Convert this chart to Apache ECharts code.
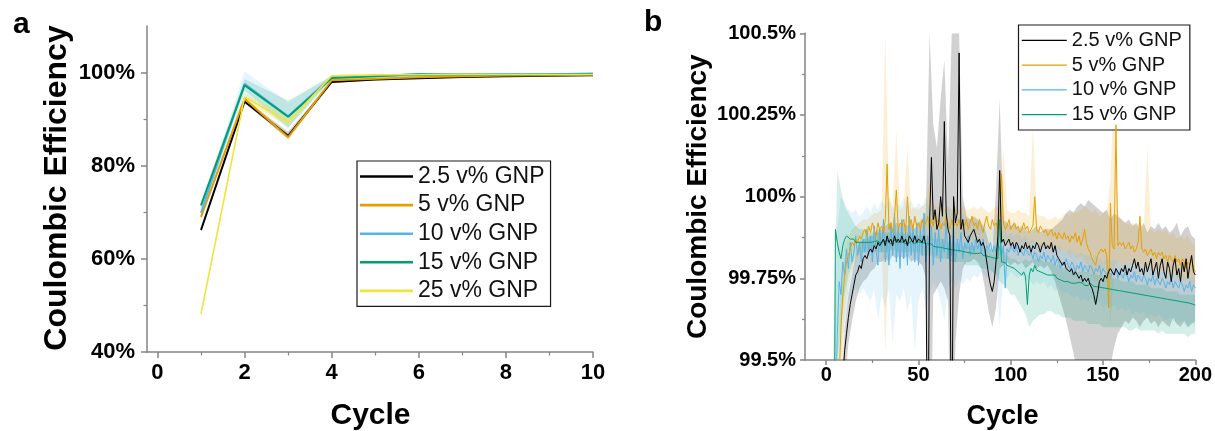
<!DOCTYPE html>
<html>
<head>
<meta charset="utf-8">
<title>Coulombic Efficiency vs Cycle</title>
<script src="https://cdn.jsdelivr.net/npm/echarts@6/dist/echarts.min.js"></script>
<style>
  html, body { margin: 0; padding: 0; background: #fff; }
  #chart { width: 1215px; height: 431px; }
</style>
</head>
<body>
<div id="chart"></div>
<script>
// ---------- Panel a: first 10 cycles (CE in %) ----------
const cyclesA = [1, 2, 3, 4, 5, 6, 7, 8, 9, 10];
const ceA_2_5 = [66.2, 93.8, 86.4, 98.0, 98.5, 98.8, 99.05, 99.2, 99.3, 99.45];
const ceA_5   = [69.0, 94.4, 86.1, 98.35, 98.7, 99.0, 99.2, 99.35, 99.45, 99.55];
const ceA_10  = [69.9, 97.6, 90.6, 99.06, 99.3, 99.45, 99.55, 99.6, 99.65, 99.8];
const ceA_15  = [71.5, 97.3, 90.5, 98.85, 99.2, 99.7, 99.6, 99.6, 99.6, 99.65];
const ceA_25  = [48.2, 94.8, 89.4, 99.3, 99.5, 99.6, 99.65, 99.6, 99.6, 99.6];

const bandA_2_5_hi = [66.6, 94.2, 87.3, 98.3, 98.7, 98.95, 99.15, 99.3, 99.4, 99.5];
const bandA_2_5_lo = [65.8, 93.4, 85.8, 97.8, 98.3, 98.6, 98.9, 99.1, 99.2, 99.35];
const bandA_5_hi   = [69.5, 94.7, 86.8, 98.6, 98.9, 99.2, 99.35, 99.5, 99.6, 99.65];
const bandA_5_lo   = [68.5, 93.9, 85.6, 98.1, 98.5, 98.8, 99.05, 99.2, 99.3, 99.45];
const bandA_10_hi  = [71.0, 100.3, 93.6, 99.5, 99.6, 99.7, 99.75, 99.8, 99.85, 99.95];
const bandA_10_lo  = [68.8, 95.2, 88.0, 98.6, 99.0, 99.2, 99.35, 99.4, 99.45, 99.55];
const bandA_15_hi  = [72.2, 98.6, 94.0, 99.2, 99.5, 99.85, 99.8, 99.75, 99.75, 99.8];
const bandA_15_lo  = [70.8, 96.2, 88.2, 98.5, 98.9, 99.5, 99.4, 99.45, 99.45, 99.5];
const bandA_25_hi  = [48.8, 95.6, 90.6, 99.5, 99.65, 99.75, 99.8, 99.75, 99.75, 99.75];
const bandA_25_lo  = [47.6, 94.0, 88.4, 99.1, 99.35, 99.45, 99.5, 99.45, 99.45, 99.45];

const ticksAx = [0, 2, 4, 6, 8, 10];
const minorAx = [1, 3, 5, 7, 9];
const ticksAy = [40, 60, 80, 100];
const minorAy = [50, 70, 90];

// ---------- Panel b: 200 cycles (CE in %) ----------
const cyclesB = Array.from({ length: 200 }, (_, i) => i + 1);
const ceB_2_5 = [
  66.2, 93.8, 86.4, 98.0, 98.5, 98.8, 99.05, 99.2, 99.45, 99.53,
  99.58, 99.63, 99.67, 99.70, 99.73, 99.76, 99.77, 99.79, 99.78, 99.81,
  99.82, 99.81, 99.83, 99.84, 99.83, 99.85, 99.84, 99.86, 99.85, 99.86,
  99.87, 99.85, 99.88, 99.86, 99.87, 99.85, 99.88, 99.86, 99.87, 99.86,
  99.88, 99.86, 99.87, 99.85, 99.88, 99.87, 99.86, 99.88, 99.86, 99.87,
  99.87, 99.86, 99.88, 99.85, 99.05, 99.92, 100.12, 99.93, 99.96, 99.9,
  99.92, 100.0, 99.94, 100.23, 99.95, 99.9, 99.88, 99.1, 100.0, 99.92,
  99.95, 100.44, 99.9, 99.93, 99.88, 99.87, 99.86, 99.88, 99.89, 99.9,
  99.88, 99.86, 99.87, 99.85, 99.86, 99.84, 99.80, 99.76, 99.73, 99.71,
  99.74, 99.80, 99.88, 100.08, 99.86, 99.87, 99.85, 99.86, 99.87, 99.85,
  99.86, 99.84, 99.86, 99.85, 99.83, 99.85, 99.84, 99.86, 99.84, 99.85,
  99.83, 99.85, 99.84, 99.86, 99.85, 99.83, 99.85, 99.86, 99.84, 99.85,
  99.84, 99.86, 99.83, 99.85, 99.82, 99.81, 99.80, 99.79, 99.80, 99.78,
  99.78, 99.77, 99.78, 99.76, 99.77, 99.76, 99.75, 99.76, 99.74, 99.75,
  99.74, 99.75, 99.73, 99.72, 99.70, 99.67, 99.70, 99.74, 99.75, 99.74,
  99.76, 99.75, 99.77, 99.78, 99.77, 99.76, 99.78, 99.77, 99.76, 99.78,
  99.77, 99.79, 99.76, 99.78, 99.77, 99.79, 99.81, 99.78, 99.80, 99.77,
  99.78, 99.76, 99.80, 99.77, 99.79, 99.81, 99.76, 99.78, 99.80, 99.75,
  99.79, 99.81, 99.77, 99.75, 99.80, 99.78, 99.74, 99.79, 99.81, 99.76,
  99.78, 99.74, 99.80, 99.77, 99.81, 99.75, 99.79, 99.82, 99.77, 99.76
];
const ceB_5 = [
  69.0, 94.4, 86.1, 98.35, 98.9, 99.2, 99.45, 99.6, 99.7, 99.76,
  99.8, 99.82, 99.84, 99.86, 99.85, 99.87, 99.86, 99.88, 99.87, 99.89,
  99.9, 99.88, 99.91, 99.89, 99.92, 99.9, 99.88, 99.92, 99.9, 99.91,
  99.89, 99.93, 100.1, 99.9, 99.92, 99.89, 99.94, 100.02, 99.9, 99.92,
  99.91, 99.93, 99.89, 100.0, 99.91, 99.93, 99.9, 99.94, 99.91, 99.92,
  99.9, 99.93, 99.91, 99.92, 99.94, 99.9, 99.93, 99.91, 99.95, 99.92,
  99.93, 99.9, 99.92, 99.91, 99.94, 99.92, 99.9, 99.93, 99.91, 99.92,
  99.91, 99.93, 99.9, 99.92, 99.91, 99.93, 99.9, 99.92, 99.94, 99.91,
  99.92, 99.9, 99.93, 99.91, 99.89, 99.92, 99.94, 99.91, 99.9, 99.93,
  99.91, 99.92, 99.9, 99.93, 100.07, 99.92, 99.9, 99.91, 99.93, 99.9,
  99.91, 99.92, 99.9, 99.91, 99.89, 99.9, 99.92, 99.9, 99.91, 99.89,
  99.9, 99.91, 100.0, 99.9, 99.89, 99.91, 99.9, 99.89, 99.9, 99.88,
  99.89, 99.9, 99.88, 99.89, 99.87, 99.89, 99.88, 99.87, 99.89, 99.87,
  99.88, 99.86, 99.88, 99.87, 99.89, 99.86, 99.88, 99.85, 99.87, 99.9,
  99.86, 99.84, 99.83, 99.81, 99.80, 99.79, 99.82, 99.83, 99.84, 99.83,
  99.84, 99.82, 99.66, 99.98, 99.85, 99.84, 100.22, 99.85, 99.86, 99.85,
  99.86, 99.84, 99.85, 99.86, 99.84, 99.85, 99.83, 99.84, 99.86, 99.94,
  99.84, 99.83, 99.84, 99.82, 99.83, 99.84, 99.82, 99.83, 99.81, 99.83,
  99.82, 99.83, 99.81, 99.82, 99.80, 99.82, 99.81, 99.80, 99.82, 99.80,
  99.81, 99.79, 99.81, 99.80, 99.78, 99.80, 99.79, 99.81, 99.78, 99.77
];
const ceB_10 = [
  69.9, 97.6, 90.6, 99.06, 99.3, 99.58, 99.74, 99.70, 99.8, 99.76,
  99.84, 99.78, 99.86, 99.8, 99.83, 99.88, 99.82, 99.86, 99.8, 99.87,
  99.83, 99.9, 99.82, 99.88, 99.8, 99.91, 99.84, 99.79, 99.9, 99.83,
  99.93, 99.8, 99.88, 99.79, 99.92, 99.82, 99.95, 99.8, 99.9, 99.78,
  99.93, 99.81, 99.89, 99.79, 99.94, 99.82, 99.9, 99.8, 99.92, 99.79,
  99.9, 99.82, 99.95, 99.8, 99.88, 99.83, 99.91, 99.79, 99.89, 99.82,
  99.9, 99.8, 99.87, 99.83, 99.92, 99.81, 99.88, 99.82, 99.9, 99.8,
  99.87, 99.83, 99.89, 99.81, 99.86, 99.84, 99.88, 99.82, 99.86, 99.83,
  99.87, 99.84, 99.86, 99.83, 99.87, 99.82, 99.85, 99.84, 99.86, 99.83,
  99.85, 99.83, 99.86, 99.84, 99.82, 99.85, 99.72, 99.84, 99.83, 99.85,
  99.84, 99.83, 99.85, 99.82, 99.84, 99.83, 99.82, 99.84, 99.83, 99.82,
  99.83, 99.81, 99.83, 99.82, 99.8, 99.82, 99.81, 99.83, 99.8, 99.82,
  99.81, 99.8, 99.82, 99.79, 99.81, 99.8, 99.78, 99.8, 99.79, 99.81,
  99.79, 99.78, 99.8, 99.79, 99.77, 99.79, 99.78, 99.8, 99.77, 99.79,
  99.78, 99.77, 99.79, 99.78, 99.76, 99.78, 99.77, 99.79, 99.76, 99.78,
  99.77, 99.76, 99.78, 99.75, 99.77, 99.76, 99.78, 99.75, 99.77, 99.76,
  99.75, 99.77, 99.76, 99.74, 99.76, 99.75, 99.77, 99.74, 99.76, 99.75,
  99.74, 99.76, 99.75, 99.73, 99.75, 99.74, 99.76, 99.73, 99.75, 99.74,
  99.73, 99.75, 99.74, 99.72, 99.74, 99.73, 99.75, 99.72, 99.74, 99.73,
  99.72, 99.74, 99.73, 99.71, 99.73, 99.72, 99.74, 99.71, 99.73, 99.72
];
const ceB_15 = [
  71.5, 97.3, 90.5, 98.85, 99.9, 99.86, 99.83, 99.81, 99.85, 99.87,
  99.88, 99.875, 99.87, 99.865, 99.87, 99.86, 99.865, 99.86, 99.855, 99.86,
  99.855, 99.86, 99.865, 99.86, 99.858, 99.862, 99.86, 99.865, 99.858, 99.86,
  99.862, 99.858, 99.866, 99.86, 99.855, 99.864, 99.858, 99.87, 99.86, 99.857,
  99.862, 99.868, 99.856, 99.862, 99.858, 99.865, 99.86, 99.855, 99.862, 99.856,
  99.86, 99.854, 99.858, 99.852, 99.856, 99.85, 99.855, 99.848, 99.852, 99.846,
  99.85, 99.845, 99.848, 99.842, 99.846, 99.84, 99.845, 99.838, 99.842, 99.836,
  99.84, 99.835, 99.838, 99.832, 99.836, 99.83, 99.834, 99.828, 99.832, 99.826,
  99.83, 99.826, 99.822, 99.828, 99.82, 99.824, 99.818, 99.822, 99.815, 99.82,
  99.812, 99.818, 99.81, 99.93, 99.8, 99.805, 99.798, 99.79, 99.795, 99.785,
  99.79, 99.78, 99.775, 99.77, 99.765, 99.76, 99.77, 99.755, 99.67, 99.76,
  99.78, 99.77, 99.79, 99.775, 99.78, 99.77, 99.775, 99.765, 99.77, 99.76,
  99.765, 99.76, 99.755, 99.76, 99.75, 99.755, 99.745, 99.75, 99.74, 99.745,
  99.74, 99.745, 99.735, 99.74, 99.735, 99.73, 99.738, 99.732, 99.735, 99.728,
  99.732, 99.728, 99.735, 99.73, 99.725, 99.73, 99.724, 99.728, 99.722, 99.726,
  99.72, 99.725, 99.718, 99.722, 99.716, 99.72, 99.714, 99.718, 99.712, 99.716,
  99.71, 99.714, 99.708, 99.712, 99.706, 99.71, 99.704, 99.708, 99.702, 99.706,
  99.70, 99.705, 99.698, 99.702, 99.696, 99.70, 99.694, 99.698, 99.692, 99.696,
  99.69, 99.694, 99.688, 99.692, 99.686, 99.69, 99.684, 99.688, 99.682, 99.686,
  99.68, 99.684, 99.678, 99.682, 99.676, 99.68, 99.674, 99.672, 99.67, 99.668
];

// spread bands (upper / lower), sampled every second cycle
const bandCyclesB = Array.from({ length: 100 }, (_, i) => 2 * (i + 1));
const bandB_2_5_hi = [
  95.0, 98.6, 99.1, 99.38, 99.6, 99.7, 99.76, 99.82, 99.86, 99.87,
  99.87, 99.88, 99.88, 99.9, 99.9, 99.91, 99.92, 99.9, 99.92, 99.91,
  99.92, 99.91, 99.92, 99.9, 99.92, 99.93, 99.95, 100.5, 100.22, 100.15,
  100.3, 100.42, 100.1, 100.5, 100.5, 100.5, 100.0, 99.94, 99.93, 99.94,
  99.93, 99.92, 99.9, 99.86, 99.82, 100.02, 100.3, 99.93, 99.92, 99.91,
  99.92, 99.9, 99.91, 99.9, 99.89, 99.9, 99.91, 99.89, 99.9, 99.9,
  99.9, 99.91, 99.92, 99.93, 99.95, 99.96, 99.95, 99.97, 99.98, 99.97,
  99.99, 99.98, 99.97, 99.96, 99.95, 99.96, 99.93, 99.95, 99.94, 99.93,
  99.92, 99.93, 99.91, 99.92, 99.9, 99.92, 99.89, 99.91, 99.9, 99.92,
  99.9, 99.91, 99.89, 99.9, 99.92, 99.88, 99.9, 99.91, 99.88, 99.87
];
const bandB_2_5_lo = [
  92.5, 97.4, 98.5, 99.0, 99.42, 99.55, 99.62, 99.68, 99.72, 99.74,
  99.75, 99.77, 99.78, 99.8, 99.8, 99.81, 99.8, 99.82, 99.81, 99.82,
  99.81, 99.82, 99.8, 99.81, 99.8, 99.79, 99.75, 99.0, 99.7, 99.72,
  99.74, 99.72, 99.68, 99.0, 99.55, 99.7, 99.78, 99.8, 99.8, 99.81,
  99.8, 99.78, 99.72, 99.65, 99.6, 99.66, 99.78, 99.79, 99.8, 99.79,
  99.8, 99.79, 99.8, 99.78, 99.79, 99.8, 99.78, 99.79, 99.78, 99.79,
  99.77, 99.74, 99.7, 99.66, 99.62, 99.57, 99.52, 99.46, 99.4, 99.32,
  99.3, 99.3, 99.32, 99.28, 99.35, 99.42, 99.48, 99.54, 99.58, 99.6,
  99.62, 99.61, 99.63, 99.62, 99.6, 99.62, 99.63, 99.61, 99.62, 99.6,
  99.62, 99.61, 99.6, 99.63, 99.61, 99.6, 99.62, 99.6, 99.61, 99.62
];
const bandB_5_hi = [
  95.5, 98.8, 99.35, 99.75, 99.85, 99.88, 99.9, 99.91, 99.92, 99.93,
  99.93, 99.94, 99.95, 99.95, 99.96, 100.5, 100.0, 99.97, 100.2, 99.96,
  99.97, 100.15, 99.96, 99.97, 99.96, 99.97, 99.98, 100.05, 99.98, 99.97,
  99.97, 99.96, 99.97, 99.96, 99.97, 99.96, 99.97, 99.96, 99.96, 99.97,
  99.96, 99.97, 99.96, 99.95, 99.96, 99.97, 99.96, 100.15, 99.96, 99.95,
  99.95, 99.96, 99.95, 99.95, 99.94, 100.22, 99.95, 99.94, 99.94, 99.93,
  99.93, 99.94, 99.93, 99.94, 99.95, 99.94, 99.96, 99.95, 99.96, 99.97,
  99.96, 99.95, 99.96, 99.94, 99.95, 99.96, 100.05, 100.35, 99.95, 99.93,
  99.92, 99.91, 99.92, 99.91, 99.92, 99.9, 100.15, 99.9, 99.89, 99.9,
  99.89, 99.9, 99.88, 99.89, 99.87, 99.88, 99.87, 99.88, 99.86, 99.85
];
const bandB_5_lo = [
  93.0, 97.9, 98.6, 99.4, 99.62, 99.72, 99.77, 99.8, 99.82, 99.83,
  99.84, 99.84, 99.85, 99.86, 99.85, 99.52, 99.84, 99.85, 99.86, 99.86,
  99.86, 99.85, 99.86, 99.85, 99.86, 99.86, 99.87, 99.86, 99.87, 99.86,
  99.87, 99.86, 99.87, 99.86, 99.87, 99.86, 99.87, 99.86, 99.87, 99.86,
  99.86, 99.87, 99.86, 99.85, 99.86, 99.87, 99.86, 99.86, 99.86, 99.85,
  99.86, 99.85, 99.86, 99.85, 99.84, 99.86, 99.85, 99.84, 99.85, 99.84,
  99.84, 99.85, 99.83, 99.84, 99.83, 99.82, 99.83, 99.81, 99.82, 99.8,
  99.78, 99.76, 99.74, 99.75, 99.77, 99.79, 99.6, 99.78, 99.8, 99.79,
  99.8, 99.79, 99.8, 99.79, 99.8, 99.78, 99.79, 99.78, 99.77, 99.78,
  99.77, 99.78, 99.76, 99.77, 99.75, 99.76, 99.74, 99.75, 99.73, 99.72
];
const bandB_10_hi = [
  99.0, 99.4, 99.9, 100.0, 99.98, 99.96, 99.95, 99.96, 99.94, 99.95,
  99.97, 99.95, 99.98, 99.96, 99.99, 99.97, 100.0, 99.96, 99.98, 99.97,
  100.0, 99.97, 99.99, 99.96, 99.98, 99.97, 100.0, 99.96, 99.97, 99.95,
  99.96, 99.94, 99.97, 99.95, 99.94, 99.93, 99.95, 99.92, 99.93, 99.92,
  99.93, 99.91, 99.92, 99.9, 99.91, 99.9, 99.89, 99.9, 99.88, 99.89,
  99.88, 99.89, 99.87, 99.88, 99.86, 99.87, 99.86, 99.85, 99.86, 99.85,
  99.85, 99.84, 99.85, 99.84, 99.83, 99.84, 99.83, 99.82, 99.83, 99.82,
  99.82, 99.81, 99.82, 99.81, 99.8, 99.81, 99.8, 99.81, 99.8, 99.79,
  99.8, 99.79, 99.8, 99.78, 99.79, 99.78, 99.79, 99.78, 99.77, 99.78,
  99.77, 99.78, 99.76, 99.77, 99.76, 99.77, 99.75, 99.76, 99.75, 99.76
];
const bandB_10_lo = [
  95.0, 98.4, 99.2, 99.5, 99.62, 99.68, 99.7, 99.72, 99.7, 99.72,
  99.7, 99.68, 99.72, 99.62, 99.7, 99.66, 99.72, 99.55, 99.7, 99.68,
  99.72, 99.65, 99.7, 99.53, 99.68, 99.72, 99.66, 99.7, 99.74, 99.72,
  99.68, 99.62, 99.72, 99.74, 99.72, 99.75, 99.73, 99.75, 99.74, 99.76,
  99.75, 99.77, 99.76, 99.75, 99.77, 99.76, 99.6, 99.76, 99.75, 99.77,
  99.76, 99.75, 99.76, 99.74, 99.75, 99.73, 99.74, 99.73, 99.74, 99.72,
  99.73, 99.71, 99.72, 99.7, 99.71, 99.7, 99.69, 99.7, 99.68, 99.69,
  99.68, 99.69, 99.67, 99.68, 99.66, 99.67, 99.66, 99.67, 99.65, 99.66,
  99.65, 99.66, 99.64, 99.65, 99.64, 99.65, 99.63, 99.64, 99.63, 99.64,
  99.63, 99.62, 99.63, 99.62, 99.61, 99.62, 99.61, 99.6, 99.62, 99.6
];
const bandB_15_hi = [
  98.0, 99.6, 100.08, 100.02, 99.97, 99.95, 99.93, 99.91, 99.9, 99.9,
  99.89, 99.89, 99.89, 99.89, 99.89, 99.89, 99.89, 99.89, 99.89, 99.89,
  99.89, 99.89, 99.89, 99.88, 99.88, 99.88, 99.88, 99.88, 99.87, 99.87,
  99.87, 99.87, 99.86, 99.86, 99.86, 99.86, 99.85, 99.85, 99.85, 99.85,
  99.85, 99.85, 99.84, 99.84, 99.84, 99.84, 99.85, 99.83, 99.82, 99.81,
  99.81, 99.8, 99.8, 99.81, 99.8, 99.81, 99.81, 99.81, 99.8, 99.8,
  99.8, 99.79, 99.79, 99.78, 99.78, 99.78, 99.77, 99.77, 99.77, 99.77,
  99.77, 99.76, 99.76, 99.76, 99.76, 99.75, 99.75, 99.75, 99.75, 99.74,
  99.74, 99.74, 99.74, 99.73, 99.73, 99.73, 99.73, 99.72, 99.72, 99.72,
  99.72, 99.71, 99.71, 99.71, 99.71, 99.7, 99.7, 99.7, 99.7, 99.7
];
const bandB_15_lo = [
  96.5, 98.2, 99.5, 99.6, 99.7, 99.76, 99.79, 99.82, 99.83, 99.83,
  99.83, 99.83, 99.83, 99.83, 99.83, 99.83, 99.83, 99.84, 99.83, 99.83,
  99.83, 99.83, 99.83, 99.83, 99.83, 99.82, 99.82, 99.82, 99.82, 99.81,
  99.81, 99.81, 99.81, 99.8, 99.8, 99.8, 99.8, 99.79, 99.79, 99.79,
  99.79, 99.78, 99.78, 99.78, 99.77, 99.76, 99.74, 99.73, 99.72, 99.7,
  99.7, 99.68, 99.66, 99.64, 99.6, 99.62, 99.63, 99.64, 99.64, 99.65,
  99.65, 99.64, 99.64, 99.63, 99.63, 99.63, 99.62, 99.62, 99.62, 99.62,
  99.61, 99.61, 99.61, 99.61, 99.6, 99.6, 99.6, 99.6, 99.6, 99.6,
  99.6, 99.59, 99.59, 99.6, 99.59, 99.59, 99.59, 99.59, 99.59, 99.58,
  99.59, 99.58, 99.58, 99.58, 99.58, 99.58, 99.58, 99.57, 99.58, 99.58
];

const ticksBx = [0, 50, 100, 150, 200];
const minorBx = [25, 75, 125, 175];
const ticksBy = [99.5, 99.75, 100, 100.25, 100.5];
const minorBy = [99.625, 99.875, 100.125, 100.375];

const names = ['2.5 v% GNP', '5 v% GNP', '10 v% GNP', '15 v% GNP', '25 v% GNP'];

// ---------- styling ----------
const FONT = 'Liberation Sans, Arial, Helvetica, sans-serif';
const COL = {
  black: '#000000', orange: '#E69F00', blue: '#56B4E9', green: '#009E73', yellow: '#F0E442'
};
const FILL = {
  black: 'rgba(0,0,0,0.18)',
  orange: 'rgba(230,159,0,0.16)',
  blue: 'rgba(86,180,233,0.15)',
  green: 'rgba(0,158,115,0.17)',
  yellow: 'rgba(240,228,66,0.3)'
};
const AXIS_GRAY = '#858585';

function pairs(xs, ys) { return xs.map((x, i) => [x, ys[i]]); }

function lineSeries(name, xs, ys, color, width, axisIdx, z) {
  return {
    type: 'line', name, data: pairs(xs, ys),
    xAxisIndex: axisIdx, yAxisIndex: axisIdx,
    symbol: 'none', showSymbol: false, clip: true, silent: true,
    lineStyle: { color, width }, itemStyle: { color },
    z, animation: false
  };
}

// shaded spread drawn as one polygon through the axis scales
function bandSeries(xs, lo, hi, fill, axisIdx) {
  return {
    type: 'custom', name: 'spread', silent: true,
    xAxisIndex: axisIdx, yAxisIndex: axisIdx, z: 1,
    data: xs.map((x, i) => [x, lo[i], hi[i]]),
    encode: { x: 0, y: [1, 2] },
    renderItem(params, api) {
      if (params.dataIndex !== 0) return null;
      const top = [], bot = [];
      for (let i = 0; i < xs.length; i++) {
        top.push(api.coord([xs[i], hi[i]]));
        bot.push(api.coord([xs[i], lo[i]]));
      }
      const cs = params.coordSys;
      return {
        type: 'polygon',
        shape: { points: top.concat(bot.reverse()) },
        style: { fill: fill, stroke: null },
        clipPath: { type: 'rect', shape: { x: cs.x, y: cs.y, width: cs.width, height: cs.height } }
      };
    },
    animation: false
  };
}

function mainAxis(kind, grid, min, max, labels, fmt, fontSize, margin, tickLen) {
  return {
    type: 'value', gridIndex: grid, min, max,
    position: kind === 'x' ? 'bottom' : 'left',
    splitLine: { show: false },
    axisLine: { show: true, onZero: false, lineStyle: { color: AXIS_GRAY, width: 1.5 } },
    axisTick: { show: true, inside: false, length: tickLen, customValues: labels,
                lineStyle: { color: AXIS_GRAY, width: 1.5 } },
    axisLabel: { show: true, customValues: labels, formatter: fmt, margin,
                 color: '#000', fontFamily: FONT, fontWeight: 'bold', fontSize }
  };
}
function minorAxis(kind, grid, min, max, ticks, tickLen) {
  return {
    type: 'value', gridIndex: grid, min, max,
    position: kind === 'x' ? 'bottom' : 'left',
    splitLine: { show: false },
    axisLine: { show: false, onZero: false },
    axisLabel: { show: false },
    axisTick: { show: true, inside: false, length: tickLen, customValues: ticks,
                lineStyle: { color: AXIS_GRAY, width: 1.2 } }
  };
}

// legend entry drawn as a plain line sample (thin filled bar)
function legendItem(name, color) {
  return { name, icon: 'rect', itemStyle: { color, borderWidth: 0 } };
}

const pct = v => v + '%';

const chart = echarts.init(document.getElementById('chart'), null, { renderer: 'canvas' });

const option = {
  backgroundColor: '#ffffff',
  animation: false,
  grid: [
    { left: 147, top: 26, width: 446, height: 326, containLabel: false },
    { left: 805, top: 33.3, width: 392, height: 326.7, containLabel: false }
  ],
  xAxis: [
    mainAxis('x', 0, -0.24, 10, ticksAx, v => String(v), 22, 10, 6),
    minorAxis('x', 0, -0.24, 10, minorAx, 3.5),
    mainAxis('x', 1, -11.5, 200, ticksBx, v => String(v), 20, 5, 5),
    minorAxis('x', 1, -11.5, 200, minorBx, 3)
  ],
  yAxis: [
    mainAxis('y', 0, 40, 110, ticksAy, pct, 22, 12, 6),
    minorAxis('y', 0, 40, 110, minorAy, 3.5),
    mainAxis('y', 1, 99.5, 100.5, ticksBy, pct, 20, 9, 5),
    minorAxis('y', 1, 99.5, 100.5, minorBy, 3)
  ],
  legend: [
    {
      orient: 'vertical', left: 357, top: 161,
      padding: [4, 6, 4, 3], itemGap: 5.6, itemWidth: 53, itemHeight: 2.6,
      borderColor: '#1a1a1a', borderWidth: 1.2, backgroundColor: '#ffffff',
      selectedMode: false,
      textStyle: { fontFamily: FONT, fontSize: 23, color: '#111' },
      data: [
        legendItem(names[0], COL.black),
        legendItem(names[1], COL.orange),
        legendItem(names[2], COL.blue),
        legendItem(names[3], COL.green),
        legendItem(names[4], COL.yellow)
      ]
    },
    {
      orient: 'vertical', left: 1018.5, top: 25,
      padding: [5.3, 8, 5.3, 3.3], itemGap: 4.8, itemWidth: 45, itemHeight: 1.3,
      borderColor: '#1a1a1a', borderWidth: 1.2, backgroundColor: '#ffffff',
      selectedMode: false,
      textStyle: { fontFamily: FONT, fontSize: 20, color: '#111' },
      data: [
        legendItem(names[0], COL.black),
        legendItem(names[1], COL.orange),
        legendItem(names[2], COL.blue),
        legendItem(names[3], COL.green)
      ]
    }
  ],
  graphic: [
    { type: 'text', left: 13, top: 10, style: { text: 'a', font: 'bold 30px ' + FONT, fill: '#000' } },
    { type: 'text', left: 644, top: 8, style: { text: 'b', font: 'bold 30px ' + FONT, fill: '#000' } },
    { type: 'text', x: 57.5, y: 188, rotation: Math.PI / 2,
      style: { text: 'Coulombic Efficiency', font: 'bold 32px ' + FONT, fill: '#000',
               textAlign: 'center', textVerticalAlign: 'middle' } },
    { type: 'text', x: 698, y: 196.7, rotation: Math.PI / 2,
      style: { text: 'Coulombic Efficiency', font: 'bold 28px ' + FONT, fill: '#000',
               textAlign: 'center', textVerticalAlign: 'middle' } },
    { type: 'text', x: 370.5, y: 415.5,
      style: { text: 'Cycle', font: 'bold 30px ' + FONT, fill: '#000',
               textAlign: 'center', textVerticalAlign: 'middle' } },
    { type: 'text', x: 1002.5, y: 416.5,
      style: { text: 'Cycle', font: 'bold 27px ' + FONT, fill: '#000',
               textAlign: 'center', textVerticalAlign: 'middle' } }
  ],
  series: [
    // panel a spreads
    bandSeries(cyclesA, bandA_2_5_lo, bandA_2_5_hi, FILL.black, 0),
    bandSeries(cyclesA, bandA_5_lo, bandA_5_hi, FILL.orange, 0),
    bandSeries(cyclesA, bandA_10_lo, bandA_10_hi, FILL.blue, 0),
    bandSeries(cyclesA, bandA_15_lo, bandA_15_hi, FILL.green, 0),
    bandSeries(cyclesA, bandA_25_lo, bandA_25_hi, FILL.yellow, 0),
    // panel a means
    lineSeries(names[0], cyclesA, ceA_2_5, COL.black, 2, 0, 3),
    lineSeries(names[1], cyclesA, ceA_5, COL.orange, 2, 0, 4),
    lineSeries(names[2], cyclesA, ceA_10, COL.blue, 2, 0, 5),
    lineSeries(names[3], cyclesA, ceA_15, COL.green, 2, 0, 6),
    lineSeries(names[4], cyclesA, ceA_25, COL.yellow, 1.6, 0, 7),
    // panel b spreads
    bandSeries(bandCyclesB, bandB_2_5_lo, bandB_2_5_hi, FILL.black, 2),
    bandSeries(bandCyclesB, bandB_5_lo, bandB_5_hi, FILL.orange, 2),
    bandSeries(bandCyclesB, bandB_10_lo, bandB_10_hi, FILL.blue, 2),
    bandSeries(bandCyclesB, bandB_15_lo, bandB_15_hi, FILL.green, 2),
    // panel b means
    lineSeries(names[2], cyclesB, ceB_10, COL.blue, 1, 2, 3),
    lineSeries(names[1], cyclesB, ceB_5, COL.orange, 1, 2, 4),
    lineSeries(names[3], cyclesB, ceB_15, COL.green, 1, 2, 5),
    lineSeries(names[0], cyclesB, ceB_2_5, COL.black, 1, 2, 6)
  ]
};

chart.setOption(option);
</script>
</body>
</html>
